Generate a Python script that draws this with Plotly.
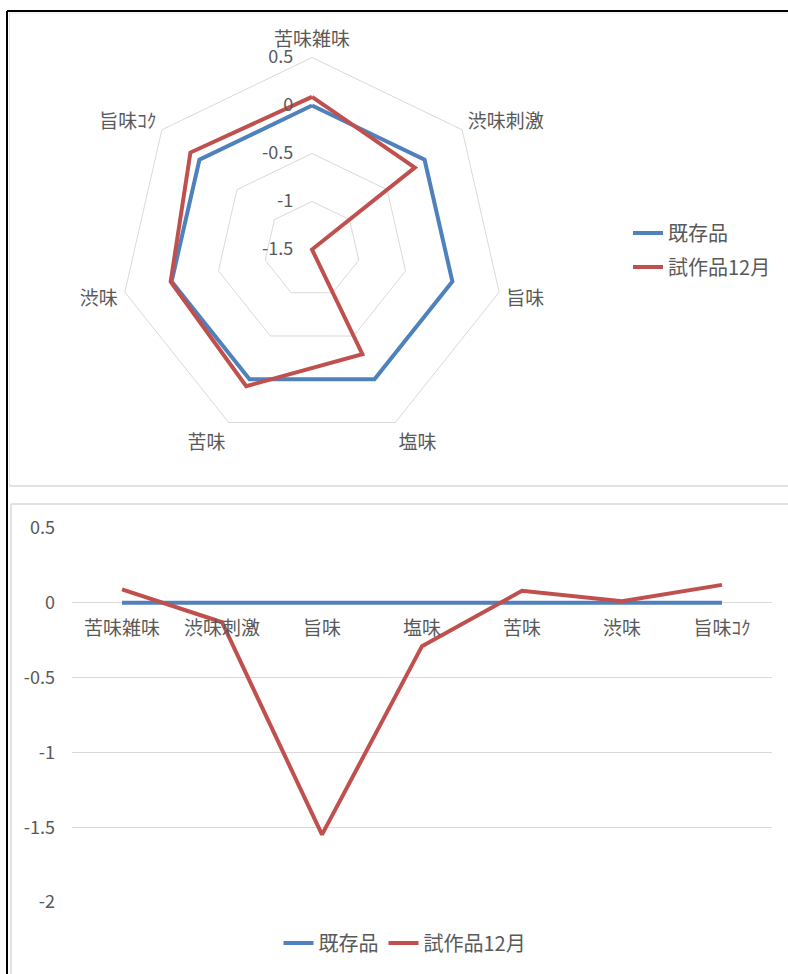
import plotly.graph_objects as go

# Taste attributes and scores
categories = ["苦味雑味", "渋味刺激", "旨味", "塩味", "苦味", "渋味", "旨味ｺｸ"]
existing = [0, 0, 0, 0, 0, 0, 0]
trial_dec = [0.09, -0.13, -1.55, -0.29, 0.08, 0.01, 0.12]
series_names = ["既存品", "試作品12月"]

radar_ticks = [-1.5, -1, -0.5, 0, 0.5]
line_ticks = [-2, -1.5, -1, -0.5, 0, 0.5]

W, H = 788, 974
BLUE = "#4F81BD"
RED = "#C0504D"
GRID = "#D9D9D9"
TEXT = "#595959"
FONT = "Noto Sans CJK JP"
LABEL_SIZE = 19
NUM_SIZE = 18
LEGEND_SIZE = 20


def px(x):
    return x / W


def py(y):
    return 1 - y / H


fig = go.Figure()

# Radar chart (top)
for name, vals, col in [(series_names[0], existing, BLUE), (series_names[1], trial_dec, RED)]:
    fig.add_trace(go.Scatterpolar(
        r=vals + vals[:1], theta=categories + categories[:1],
        mode="lines", name=name, line=dict(color=col, width=4),
        legend="legend", legendgroup=name,
    ))

# Line chart (bottom)
for name, vals, col in [(series_names[0], existing, BLUE), (series_names[1], trial_dec, RED)]:
    fig.add_trace(go.Scatter(
        x=categories, y=vals, mode="lines", name=name,
        line=dict(color=col, width=4), legend="legend2",
        xaxis="x", yaxis="y",
    ))

cx, cy, R = 312, 249.5, 192
fig.update_layout(
    template="none",
    width=W, height=H,
    margin=dict(l=0, r=0, t=0, b=0, pad=0, autoexpand=False),
    paper_bgcolor="white", plot_bgcolor="white",
    font=dict(family=FONT, size=LABEL_SIZE, color=TEXT),
    polar=dict(
        domain=dict(x=[px(cx - R), px(cx + R)], y=[py(cy + R), py(cy - R)]),
        gridshape="linear",
        bgcolor="white",
        radialaxis=dict(
            range=[-1.5, 0.5], tickvals=radar_ticks,
            ticktext=[str(t) for t in radar_ticks],
            angle=90, tickangle=90, showline=False,
            ticks="outside", ticklen=12, tickcolor="rgba(0,0,0,0)",
            gridcolor=GRID, gridwidth=1, side="counterclockwise",
            tickfont=dict(size=NUM_SIZE, color=TEXT),
        ),
        angularaxis=dict(
            categoryorder="array", categoryarray=categories,
            rotation=90, direction="clockwise",
            showgrid=False, showline=True, linecolor=GRID, linewidth=1,
            ticks="outside", ticklen=3, tickcolor="rgba(0,0,0,0)",
            tickfont=dict(size=LABEL_SIZE, color=TEXT),
        ),
    ),
    xaxis=dict(
        domain=[px(72), px(772)], anchor="free", position=py(603),
        range=[-0.5, 6.5], automargin=False,
        categoryorder="array", categoryarray=categories,
        showline=False, ticks="", showgrid=False, zeroline=False,
        tickfont=dict(size=LABEL_SIZE, color=TEXT), ticklabelstandoff=12,
    ),
    yaxis=dict(
        domain=[py(902), py(528)], range=[-2, 0.5], tickvals=line_ticks,
        ticktext=[str(t) for t in line_ticks], automargin=False,
        showgrid=True, gridcolor=GRID, gridwidth=1, zeroline=False,
        showline=False, ticks="", tickfont=dict(size=NUM_SIZE, color=TEXT),
        ticklabelstandoff=16,
    ),
    legend=dict(
        x=px(628), y=py(250), xanchor="left", yanchor="middle",
        orientation="v", traceorder="grouped", tracegroupgap=5,
        font=dict(size=LEGEND_SIZE, color=TEXT), bgcolor="rgba(0,0,0,0)",
    ),
    legend2=dict(
        x=px(405), y=py(943), xanchor="center", yanchor="middle",
        orientation="h", font=dict(size=LEGEND_SIZE, color=TEXT),
        bgcolor="rgba(0,0,0,0)",
    ),
    showlegend=True,
)

# Chart frames
shapes = [
    # outer black frame (top and left edges)
    dict(type="line", x0=px(7), x1=1, y0=py(11), y1=py(11), line=dict(color="black", width=2)),
    dict(type="line", x0=px(7), x1=px(7), y0=py(11), y1=0, line=dict(color="black", width=2)),
    # inner light edges
    dict(type="line", x0=px(9), x1=1, y0=py(13), y1=py(13), line=dict(color="#E6E6E6", width=1)),
    dict(type="line", x0=px(9.5), x1=px(9.5), y0=py(13), y1=py(486), line=dict(color="#E6E6E6", width=1)),
    dict(type="line", x0=px(9.5), x1=1, y0=py(486), y1=py(486), line=dict(color=GRID, width=1.5)),
    dict(type="line", x0=px(11), x1=1, y0=py(504), y1=py(504), line=dict(color=GRID, width=1.5)),
    dict(type="line", x0=px(11), x1=px(11), y0=py(504), y1=0, line=dict(color=GRID, width=1.5)),
]
for s in shapes:
    s.update(xref="paper", yref="paper", layer="above")
fig.update_layout(shapes=shapes)

fig.write_html("out.html")
